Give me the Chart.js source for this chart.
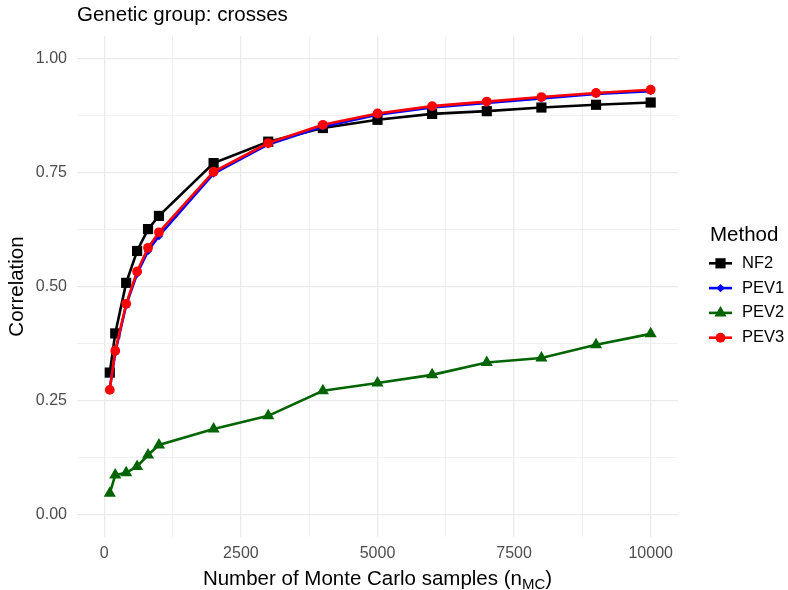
<!DOCTYPE html>
<html>
<head>
<meta charset="utf-8">
<script src="https://cdn.jsdelivr.net/npm/chart.js@4.4.1/dist/chart.umd.min.js"></script>
<style>
  html, body { margin: 0; padding: 0; background: #ffffff; }
  canvas { display: block; }
</style>
</head>
<body>
<canvas id="c" width="788" height="590"></canvas>
<script>
// ---- Data ----
const nMC = [100, 200, 400, 600, 800, 1000, 2000, 3000, 4000, 5000, 6000, 7000, 8000, 9000, 10000];
const NF2  = [0.311, 0.397, 0.508, 0.578, 0.626, 0.655, 0.771, 0.818, 0.848, 0.866, 0.879, 0.885, 0.893, 0.899, 0.904];
const PEV1 = [0.276, 0.355, 0.459, 0.528, 0.578, 0.611, 0.748, 0.812, 0.851, 0.877, 0.893, 0.903, 0.913, 0.923, 0.929];
const PEV2 = [0.046, 0.086, 0.091, 0.105, 0.130, 0.152, 0.187, 0.216, 0.271, 0.288, 0.306, 0.333, 0.343, 0.372, 0.396];
const PEV3 = [0.273, 0.359, 0.462, 0.533, 0.585, 0.619, 0.752, 0.815, 0.855, 0.880, 0.896, 0.906, 0.916, 0.925, 0.932];

const seriesNames = ['NF2', 'PEV1', 'PEV2', 'PEV3'];
const seriesValues = [NF2, PEV1, PEV2, PEV3];
const xTickLabels = ['0', '2500', '5000', '7500', '10000'];
const yTickLabels = ['0.00', '0.25', '0.50', '0.75', '1.00'];
const titleText = 'Genetic group: crosses';
const legendTitle = 'Method';

// ---- Styles ----
const FONT = "'Liberation Sans', Arial, Helvetica, sans-serif";
const styles = [
  { color: '#000000', pointStyle: 'rect',     radius: 7.2, order: 4 },
  { color: '#0000FF', pointStyle: 'rectRot',  radius: 4.2, order: 3 },
  { color: '#006400', pointStyle: 'triangle', radius: 7.0, order: 2 },
  { color: '#FF0000', pointStyle: 'circle',   radius: 4.9, order: 1 }
];

const datasets = seriesNames.map((name, i) => ({
  label: name,
  data: nMC.map((x, j) => ({ x: x, y: seriesValues[i][j] })),
  borderColor: styles[i].color,
  backgroundColor: styles[i].color,
  pointBackgroundColor: styles[i].color,
  pointBorderWidth: 0,
  pointStyle: styles[i].pointStyle,
  pointRadius: styles[i].radius,
  borderWidth: 2.6,
  tension: 0,
  order: styles[i].order
}));

const PLOT = { left: 77, right: 678, top: 36, bottom: 537 };

const xMajor = xTickLabels.map(Number);
const yMajor = yTickLabels.map(Number);

const decorPlugin = {
  id: 'decor',
  afterDraw(chart) {
    const ctx = chart.ctx;
    const area = chart.chartArea;
    ctx.save();
    // Plot title
    ctx.fillStyle = '#000000';
    ctx.font = "20.5px " + FONT;
    ctx.textAlign = 'left';
    ctx.textBaseline = 'middle';
    ctx.fillText(titleText, area.left, 15);

    // X-axis title with subscript
    const mainFont = "20.5px " + FONT;
    const subFont = "15px " + FONT;
    const p1 = 'Number of Monte Carlo samples (n';
    const p2 = 'MC';
    const p3 = ')';
    ctx.font = mainFont; const w1 = ctx.measureText(p1).width; const w3 = ctx.measureText(p3).width;
    ctx.font = subFont; const w2 = ctx.measureText(p2).width;
    const total = w1 + w2 + w3;
    let x = (area.left + area.right) / 2 - total / 2;
    const yb = 585;
    ctx.textBaseline = 'alphabetic';
    ctx.textAlign = 'left';
    ctx.font = mainFont; ctx.fillText(p1, x, yb); x += w1;
    ctx.font = subFont; ctx.fillText(p2, x, yb + 4); x += w2;
    ctx.font = mainFont; ctx.fillText(p3, x, yb);

    // Legend
    ctx.font = "20.5px " + FONT;
    ctx.textBaseline = 'middle';
    ctx.fillText(legendTitle, 710, 235);
    seriesNames.forEach((name, i) => {
      const cy = 263.3 + i * 24.8;
      const st = styles[i];
      ctx.strokeStyle = st.color;
      ctx.fillStyle = st.color;
      ctx.lineWidth = 2.6;
      ctx.beginPath();
      ctx.moveTo(709, cy);
      ctx.lineTo(732, cy);
      ctx.stroke();
      Chart.helpers.drawPoint(ctx, { pointStyle: st.pointStyle, radius: st.radius, rotation: 0, borderWidth: 0 }, 720.5, cy);
      ctx.fillStyle = '#000000';
      ctx.font = "16.5px " + FONT;
      ctx.textAlign = 'left';
      ctx.fillText(name, 742, cy);
    });
    ctx.restore();
  }
};

new Chart(document.getElementById('c'), {
  type: 'line',
  data: { datasets: datasets },
  options: {
    responsive: false,
    animation: false,
    devicePixelRatio: 1,
    layout: { padding: { left: 0, top: PLOT.top, right: 788 - PLOT.right, bottom: 0 } },
    plugins: {
      legend: { display: false },
      title: { display: false },
      tooltip: { enabled: false }
    },
    scales: {
      x: {
        type: 'linear',
        min: -500,
        max: 10500,
        afterFit(scale) { scale.height = 590 - PLOT.bottom; },
        afterBuildTicks(scale) {
          const t = [];
          for (let v = 0; v <= 10000; v += 1250) t.push({ value: v });
          scale.ticks = t;
        },
        border: { display: false },
        grid: {
          drawTicks: false,
          color: '#ebebeb',
          lineWidth: (c) => (c.tick && xMajor.includes(c.tick.value)) ? 1.3 : 0.7
        },
        ticks: {
          autoSkip: false,
          maxRotation: 0,
          padding: 7,
          color: '#4d4d4d',
          font: { family: FONT, size: 16 },
          callback: (v) => { const k = xMajor.indexOf(v); return k >= 0 ? xTickLabels[k] : ''; }
        }
      },
      y: {
        type: 'linear',
        min: -0.05,
        max: 1.05,
        afterFit(scale) { scale.width = PLOT.left; },
        afterBuildTicks(scale) {
          const t = [];
          for (let k = 0; k <= 8; k++) t.push({ value: k * 0.125 });
          scale.ticks = t;
        },
        border: { display: false },
        grid: {
          drawTicks: false,
          color: '#ebebeb',
          lineWidth: (c) => (c.index % 2 === 0) ? 1.3 : 0.7
        },
        title: {
          display: true,
          text: 'Correlation',
          color: '#000000',
          font: { family: FONT, size: 20.5 },
          padding: { top: 5, bottom: 0 }
        },
        ticks: {
          autoSkip: false,
          padding: 10,
          color: '#4d4d4d',
          font: { family: FONT, size: 16 },
          callback: (v, idx) => (idx % 2 === 0) ? yTickLabels[idx / 2] : ''
        }
      }
    }
  },
  plugins: [decorPlugin]
});
</script>
</body>
</html>
